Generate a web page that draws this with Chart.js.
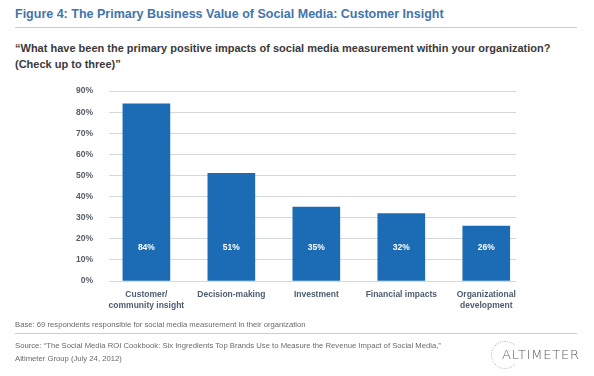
<!DOCTYPE html>
<html>
<head>
<meta charset="utf-8">
<script src="https://cdn.jsdelivr.net/npm/chart.js@4.4.1/dist/chart.umd.min.js"></script>
<style>
  html, body { margin: 0; padding: 0; background: #fff; }
  body { width: 594px; height: 376px; position: relative; overflow: hidden; font-family: "Liberation Sans", Arial, sans-serif; }
  .abs { position: absolute; white-space: nowrap; }
  #title { left: 15px; top: 7px; font-size: 12.5px; font-weight: bold; color: #4274ad; }
  .rule { position: absolute; left: 15px; width: 562px; height: 1px; background: #c9ccd1; }
  #question { left: 15px; top: 40px; font-size: 11px; font-weight: bold; color: #3a3a3a; line-height: 16px; }
  #base { left: 15px; top: 320px; font-size: 7.7px; color: #6a6a6a; }
  #source { left: 15px; top: 340px; font-size: 7.7px; color: #6a6a6a; line-height: 12.5px; }
  #logo { left: 502px; top: 347px; font-size: 13px; color: #5a5a5a; letter-spacing: 0.8px; font-family: "DejaVu Sans", sans-serif; font-weight: 200; }
  #ring { position: absolute; left: 491px; top: 341px; width: 26px; height: 26px; border: 1px dotted #b9bcc0; border-radius: 50%; border-right-color: transparent; }
  #wrap { position: absolute; left: 0; top: 70px; width: 594px; height: 251px; }
</style>
</head>
<body>
<div id="title" class="abs">Figure 4: The Primary Business Value of Social Media: Customer Insight</div>
<div class="rule" style="top:27px"></div>
<div id="question" class="abs">“What have been the primary positive impacts of social media measurement within your organization?<br>(Check up to three)”</div>
<div id="wrap"><canvas id="impactChart"></canvas></div>
<div id="base" class="abs">Base: 69 respondents responsible for social media measurement in their organization</div>
<div class="rule" style="top:333px"></div>
<div id="source" class="abs">Source: “The Social Media ROI Cookbook: Six Ingredients Top Brands Use to Measure the Revenue Impact of Social Media,”<br>Altimeter Group (July 24, 2012)</div>
<div id="ring"></div>
<div id="logo" class="abs">ALTIMETER</div>
<script>
// Datos
const categories = [
    ['Customer/', 'community insight'],
    'Decision-making',
    'Investment',
    'Financial impacts',
    ['Organizational', 'development']
];
const impactValues = [84, 51, 35, 32, 26];
const yTicks = [0, 10, 20, 30, 40, 50, 60, 70, 80, 90];

document.addEventListener('DOMContentLoaded', function () {
    const ctx = document.getElementById('impactChart').getContext('2d');

    // Etiquetas blancas dentro de las barras, cerca de la base
    const insideLabels = {
        id: 'insideLabels',
        afterDatasetsDraw(chart) {
            const meta = chart.getDatasetMeta(0);
            const c = chart.ctx;
            c.save();
            c.fillStyle = '#ffffff';
            c.font = 'bold 8.5px "Liberation Sans", Arial, sans-serif';
            c.textAlign = 'center';
            c.textBaseline = 'middle';
            meta.data.forEach((bar, i) => {
                c.fillText(impactValues[i] + '%', bar.x, chart.chartArea.bottom - 33);
            });
            c.restore();
        }
    };

    new Chart(ctx, {
        type: 'bar',
        data: {
            datasets: [{
                data: impactValues.map((v, i) => ({ x: i, y: v })),
                backgroundColor: '#1b6cb4',
                barThickness: 47
            }]
        },
        options: {
            responsive: true,
            maintainAspectRatio: false,
            animation: false,
            layout: { padding: { left: 60, right: 78, top: 5, bottom: 0 } },
            plugins: { legend: { display: false }, tooltip: { enabled: false } },
            scales: {
                x: {
                    type: 'linear',
                    offset: false,
                    min: -0.44,
                    max: 4.35,
                    grid: { display: false },
                    border: { display: false },
                    afterFit(scale) { scale.height = 40; },
                    afterBuildTicks(scale) {
                        scale.ticks = categories.map((c, i) => ({ value: i }));
                    },
                    ticks: {
                        padding: 1,
                        color: '#4d5c70',
                        font: { size: 8.5, weight: 'bold', family: '"Liberation Sans", Arial, sans-serif' },
                        maxRotation: 0,
                        autoSkip: false,
                        callback: (v) => categories[v]
                    }
                },
                y: {
                    min: 0,
                    max: 90,
                    afterFit(scale) { scale.width = 49; },
                    afterBuildTicks(scale) {
                        scale.ticks = yTicks.map(v => ({ value: v }));
                    },
                    grid: { color: '#d5d9de', lineWidth: 1, drawTicks: false },
                    border: { display: false },
                    ticks: {
                        padding: 16,
                        color: '#555c66',
                        font: { size: 8.5, weight: 'bold', family: '"Liberation Sans", Arial, sans-serif' },
                        callback: (v) => v + '%'
                    }
                }
            }
        },
        plugins: [insideLabels]
    });
});
</script>
</body>
</html>
